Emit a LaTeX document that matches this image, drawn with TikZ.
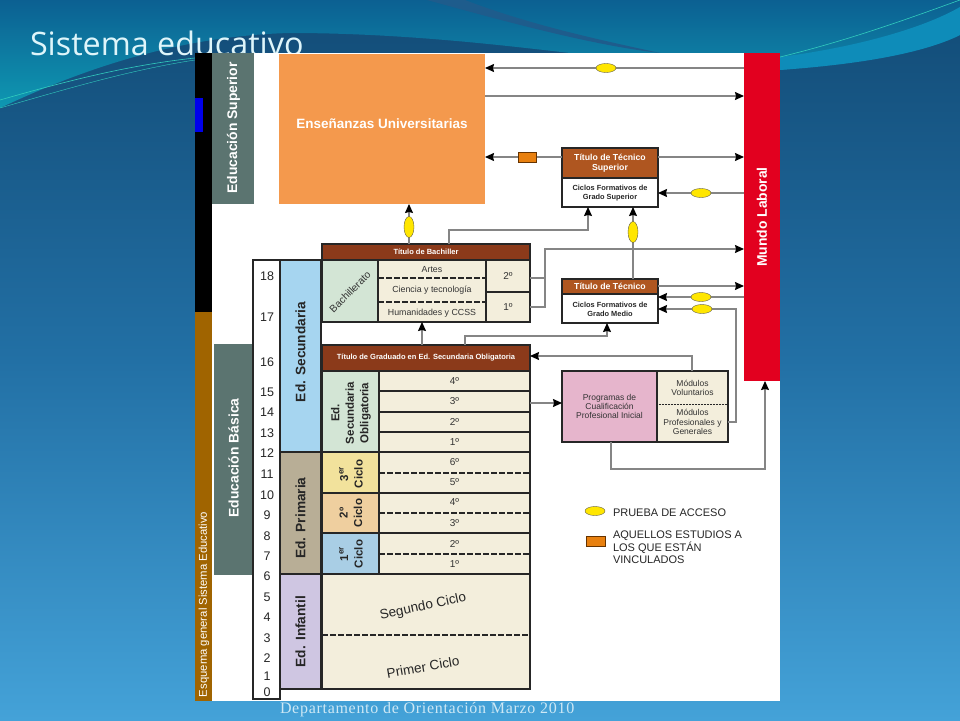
\documentclass[tikz,border=0pt]{standalone}
\usepackage{fontspec}
\setmainfont{Liberation Sans}
\newfontfamily\titlefont{Open Sans}
\newfontfamily\footfont[LetterSpace=4.4]{Liberation Serif}
\usetikzlibrary{arrows.meta,shapes.geometric}
\definecolor{bachiller}{HTML}{8B3A1A}
\definecolor{tecnico}{HTML}{AF5620}
\definecolor{crema}{HTML}{F3EEDC}
\definecolor{verdeclaro}{HTML}{D3E5D5}
\definecolor{grisverde}{HTML}{5B7470}
\definecolor{borde}{HTML}{262626}
\definecolor{conector}{HTML}{858585}
\definecolor{amarillo}{HTML}{FFE600}
\definecolor{naranja}{HTML}{E8800F}
\definecolor{fondoa}{HTML}{124B76}
\definecolor{fondob}{HTML}{2270A5}
\definecolor{fondoc}{HTML}{44A2D8}
\definecolor{bandaa}{HTML}{0C6092}
\definecolor{bandab}{HTML}{0E98B2}
\definecolor{estela}{HTML}{1E5C8C}
\definecolor{brillo}{HTML}{0E8CB9}
\definecolor{hilo}{HTML}{32CDBE}
\definecolor{blancoazul}{HTML}{DEF5FA}
\definecolor{pieclaro}{HTML}{CDE8F5}
\definecolor{marron}{HTML}{A06400}
\definecolor{azulpuro}{HTML}{0000EB}
\definecolor{ensena}{HTML}{F4994D}
\definecolor{rojomundo}{HTML}{E2001F}
\definecolor{celeste}{HTML}{A6D5F0}
\definecolor{arena}{HTML}{B8AE96}
\definecolor{lila}{HTML}{CFC6E2}
\definecolor{cicloa}{HTML}{A9CEE5}
\definecolor{ciclob}{HTML}{EFCF9F}
\definecolor{cicloc}{HTML}{F2E29C}
\definecolor{rosa}{HTML}{E6B5CC}
\begin{document}
\begin{tikzpicture}[x=1pt,y=-1pt]
      \useasboundingbox (0,0) rectangle (960,720);
      \tikzstyle{every node} = [inner sep = 0pt, outer sep = 0pt]
      \tikzstyle{caja} = [draw = borde, line width = 1.3pt, anchor = north west, align = center]
      \tikzstyle{franja} = [anchor = north west, text = white, font = \bfseries]
      \tikzstyle{rotulo} = [rotate = 90, text = white, font = \bfseries\fontsize{13.9}{15}\selectfont]
      \tikzstyle{cabecera} = [caja, text = white, font = \bfseries\fontsize{7.5}{9}\selectfont]
      \tikzstyle{tecn} = [cabecera, fill = tecnico, minimum width = 96pt, font = \bfseries\fontsize{8.7}{10}\selectfont]
      \tikzstyle{fila} = [font = \fontsize{8.8}{10}\selectfont, text = black!80]
      \tikzstyle{curso} = [font = \fontsize{10}{11}\selectfont, text = black!80]
      \tikzstyle{etapa} = [caja, minimum width = 41pt]
      \tikzstyle{etapatx} = [rotate = 90, font = \bfseries\fontsize{13.7}{15}\selectfont, text = black!85]
      \tikzstyle{ciclo} = [caja, minimum width = 57pt]
      \tikzstyle{ciclotx} = [rotate = 90, align = center, font = \bfseries\fontsize{11.5}{14.5}\selectfont, text = black!85]
      \tikzstyle{edad} = [font = \fontsize{12.5}{13}\selectfont, text = black!85]
      \tikzstyle{peq} = [font = \bfseries\fontsize{7.4}{9}\selectfont, align = center, text = black!85]
      \tikzstyle{mods} = [font = \fontsize{8.5}{9.4}\selectfont, align = center, text = black!80]
      \tikzstyle{ley} = [font = \fontsize{11}{12.4}\selectfont, align = left, text = black!85]
      \tikzstyle{infantiltx} = [font = \fontsize{13.5}{14}\selectfont, text = black!85]
      \tikzstyle{oval} = [ellipse, draw = black!70!yellow, fill = amarillo, minimum width = 20pt, minimum height = 9pt]
      \tikzstyle{ovalv} = [oval, minimum width = 10pt, minimum height = 21pt]
      \tikzstyle{vinculo} = [draw = black!60!orange, fill = naranja, minimum width = 18pt, minimum height = 10pt]
      \tikzstyle{conn} = [draw = conector, line width = 1.2pt]
      \tikzstyle{flecha} = [conn, -{Stealth[black, length = 9pt, width = 8pt, inset = 1pt]}]
      \tikzstyle{rayas} = [draw = borde, line width = 1.3pt, dash pattern = on 6pt off 2pt]
      % fondo
      \shade[top color = fondoa, bottom color = fondoc, middle color = fondob] (0,0) rectangle (960,720);
      \shade[top color = bandaa, bottom color = bandab]
      (0,0) -- (0,108) .. controls (70,75) and (170,36) .. (290,33) .. controls (400,33) and (500,45) .. (570,53) -- (780,70) .. controls (850,62) and (920,55) .. (960,35) -- (960,0) -- cycle;
      \fill[estela] (427,0) -- (465,0) .. controls (530,25) and (600,40) .. (660,53) .. controls (590,45) and (500,20) .. cycle;
      \fill[brillo] (780,57) .. controls (850,48) and (920,30) .. (960,7) -- (960,35) .. controls (920,55) and (850,65) .. (780,70) -- cycle;
      \draw[hilo, line width = .6pt] (0,100) .. controls (70,80) and (130,65) .. (195,58);
      \draw[hilo, line width = .4pt] (0,108) .. controls (70,88) and (130,70) .. (195,60);
      \draw[hilo, line width = .6pt] (780,57) .. controls (850,40) and (910,18) .. (960,0);
      \node[anchor = west, text = blancoazul, font = \titlefont\fontsize{32.3}{34}\selectfont] (titulo) at (30,43) {Sistema educativo};
      \node[anchor = west, text = pieclaro, font = \footfont\fontsize{16}{17}\selectfont] (pie) at (280,710) {Departamento de Orientación Marzo 2010};
      % panel blanco
      \fill[white] (195,53) rectangle (780,701);
      \fill[black] (195,53) rectangle (212,312);
      \fill[azulpuro] (195,98) rectangle (203,132);
      \node[franja, fill = marron, minimum width = 17pt, minimum height = 389pt] (esquema) at (195,312) {};
      \node[rotate = 90, anchor = west, text = white, font = \fontsize{11.3}{12}\selectfont] (esquematx) at (204,697) {Esquema general Sistema Educativo};
      \node[franja, fill = grisverde, minimum width = 42pt, minimum height = 151pt] (superior) at (212,53) {};
      \node[rotulo] (superiortx) at (233.5,128) {Educación Superior};
      \node[franja, fill = grisverde, minimum width = 39pt, minimum height = 231pt] (basica) at (214,344) {};
      \node[rotulo] (basicatx) at (233.5,458) {Educación Básica};
      \node[franja, fill = ensena, minimum width = 206pt, minimum height = 150pt] (ens) at (279,54) {};
      \node[text = white, font = \bfseries\fontsize{13.5}{15}\selectfont] (enstx) at (382,124) {Enseñanzas Universitarias};
      \node[franja, fill = rojomundo, minimum width = 36pt, minimum height = 328pt] (mundo) at (744,53) {};
      \node[rotulo] (mundotx) at (762,217) {Mundo Laboral};
      % edades
      \node[caja, fill = white, minimum width = 27pt, minimum height = 439pt] (escala) at (253,260) {};
      \foreach \a/\y in {18/276,17/317,16/362,15/392,14/412,13/433,12/453,11/474,10/495,9/515,8/536,7/556,6/576,5/597,4/617,3/638,2/658,1/676,0/692}{
        \node[edad] (edad\a) at (267,\y) {\a};
      }
      % etapas
      \node[etapa, fill = celeste, minimum height = 192pt] (sec) at (280,260) {};
      \node[etapa, fill = arena, minimum height = 122pt] (pri) at (280,452) {};
      \node[etapa, fill = lila, minimum height = 115pt] (inf) at (280,574) {};
      \node[etapatx] (sectx) at (300.5,352) {Ed. Secundaria};
      \node[etapatx] (pritx) at (300.5,518) {Ed. Primaria};
      \node[etapatx] (inftx) at (300.5,631.5) {Ed. Infantil};
      % bachillerato
      \node[cabecera, fill = bachiller, minimum width = 208pt, minimum height = 16pt] (tbach) at (322,244) {Título de Bachiller};
      \node[caja, fill = verdeclaro, minimum width = 56pt, minimum height = 62pt] (bach) at (322,260) {};
      \node[rotate = 45, font = \fontsize{10.2}{11}\selectfont, text = black!80] (bachtx) at (350,292) {Bachillerato};
      \node[caja, fill = crema, minimum width = 108pt, minimum height = 62pt] (modal) at (378,260) {};
      \draw[rayas] (modal.west |- 0,278) -- (modal.east |- 0,278);
      \draw[rayas] (modal.west |- 0,302) -- (modal.east |- 0,302);
      \foreach \n/\t/\y in {artes/Artes/270,ciencia/Ciencia y tecnología/290,hum/Humanidades y CCSS/313}{
        \node[fila] (\n) at (432,\y) {\t};
      }
      \node[caja, fill = crema, minimum width = 44pt, minimum height = 32pt, curso] (bdos) at (486,260) {2º};
      \node[caja, fill = crema, minimum width = 44pt, minimum height = 30pt, curso] (buno) at (486,292) {1º};
      % secundaria obligatoria
      \node[cabecera, fill = bachiller, minimum width = 208pt, minimum height = 26pt] (tgrad) at (322,345) {Título de Graduado en Ed. Secundaria Obligatoria};
      \node[ciclo, fill = verdeclaro, minimum height = 81pt] (eso) at (322,371) {};
      \node[ciclotx] (esotx) at (351,413) {Ed.\\Secundaria\\Obligatoria};
      \foreach \n/\y/\h in {4/371/20,3/391/21,2/412/20,1/432/20}{
        \node[caja, fill = crema, minimum width = 151pt, minimum height = \h pt, curso] (eso\n) at (379,\y) {\n º};
      }
      % primaria
      \node[ciclo, fill = cicloc, minimum height = 41pt] (c3) at (322,452) {};
      \node[ciclo, fill = ciclob, minimum height = 40pt] (c2) at (322,493) {};
      \node[ciclo, fill = cicloa, minimum height = 41pt] (c1) at (322,533) {};
      \node[ciclotx] (c3tx) at (351,474) {3\textsuperscript{er}\\Ciclo};
      \node[ciclotx] (c2tx) at (351,513) {2º\\Ciclo};
      \node[ciclotx] (c1tx) at (351,554) {1\textsuperscript{er}\\Ciclo};
      \node[caja, fill = crema, minimum width = 151pt, minimum height = 122pt] (cursos) at (379,452) {};
      \draw[caja] (cursos.west |- 0,493) -- (cursos.east |- 0,493);
      \draw[caja] (cursos.west |- 0,533) -- (cursos.east |- 0,533);
      \foreach \y in {473,513,554}{
        \draw[rayas] (cursos.west |- 0,\y) -- (cursos.east |- 0,\y);
      }
      \foreach \n/\y in {6/462,5/482,4/502,3/523,2/544,1/564}{
        \node[curso] (curso\n) at (454.5,\y) {\n º};
      }
      % infantil
      \node[caja, fill = crema, minimum width = 208pt, minimum height = 115pt] (infantil) at (322,574) {};
      \draw[rayas] (infantil.west |- 0,635) -- (infantil.east |- 0,635);
      \node[infantiltx, rotate = 12] (segundo) at (423,607) {Segundo Ciclo};
      \node[infantiltx, rotate = 10] (primero) at (423,667) {Primer Ciclo};
      % titulos tecnicos
      \node[caja, fill = white, minimum width = 96pt, minimum height = 59pt] (gsup) at (562,148) {};
      \node[tecn, minimum height = 30pt] (tsup) at (562,148) {Título de Técnico\\Superior};
      \node[peq] (gsuptx) at (610,193) {Ciclos Formativos de\\Grado Superior};
      \node[caja, fill = white, minimum width = 96pt, minimum height = 44pt] (gmed) at (562,279) {};
      \node[tecn, minimum height = 15pt] (ttec) at (562,279) {Título de Técnico};
      \node[peq] (gmedtx) at (610,309) {Ciclos Formativos de\\Grado Medio};
      % programas
      \node[caja, fill = rosa, minimum width = 95pt, minimum height = 71pt, mods] (pcpi) at (562,371) {Programas de\\Cualificación\\Profesional Inicial};
      \node[caja, fill = crema, minimum width = 71pt, minimum height = 71pt] (mod) at (657,371) {};
      \draw[draw = borde, densely dotted, line width = .5pt] (mod.west |- 0,404) -- (mod.east |- 0,404);
      \node[mods] (modv) at (692.5,388) {Módulos\\Voluntarios};
      \node[mods] (modp) at (692.5,422) {Módulos\\Profesionales y\\Generales};
      % conectores
      \draw[flecha] (mundo.west |- 0,68) -- (ens.east |- 0,68);
      \draw[flecha] (ens.east |- 0,96) -- (mundo.west |- 0,96);
      \draw[flecha] (tsup.west |- 0,157) -- (ens.east |- 0,157);
      \draw[flecha] (tsup.east |- 0,157) -- (mundo.west |- 0,157);
      \draw[flecha] (mundo.west |- 0,193) -- (gsup.east |- 0,193);
      \draw[flecha] (tbach.north -| 409,0) -- (ens.south -| 409,0);
      \draw[flecha] (tbach.north -| 449,0) |- (560,230) -| (gsup.south -| 588,0);
      \draw[flecha] (ttec.north -| 633,0) -- (gsup.south -| 633,0);
      \coordinate (cruce) at (545,249);
      \draw[conn] (bdos.east |- 0,278) -- (cruce |- 0,278);
      \draw[flecha] (buno.east |- 0,307) -| (cruce) -- (mundo.west |- cruce);
      \draw[flecha] (ttec.east |- 0,286) -- (mundo.west |- 0,286);
      \draw[flecha] (mundo.west |- 0,297) -- (gmed.east |- 0,297);
      \draw[flecha] (mod.east |- 0,422) -| (736,309) -- (gmed.east |- 0,309);
      \draw[flecha] (tgrad.north -| 465,0) |- (600,336) -| (gmed.south -| 607,0);
      \draw[flecha] (tgrad.north -| 422,0) -- (bach.south -| 422,0);
      \draw[flecha] (mod.north -| 692,0) |- (tgrad.east |- 0,356);
      \draw[flecha] (eso3.east |- 0,403) -- (pcpi.west |- 0,403);
      \draw[flecha] (pcpi.south -| 611,0) |- (700,469) -| (mundo.south -| 765,0);
      % pruebas
      \node[ovalv] (pbach) at (409,227) {};
      \node[ovalv] (ptec) at (633,232) {};
      \node[oval] (puni) at (606,68) {};
      \node[oval] (psup) at (701,193) {};
      \node[oval] (pmed) at (701,297) {};
      \node[oval] (ppcpi) at (702,309) {};
      \node[vinculo] (vuni) at (527,157) {};
      % leyenda
      \node[oval] (leyoval) at (595,511) {};
      \node[ley, anchor = west] (leytx) at (613,513) {PRUEBA DE ACCESO};
      \node[vinculo, minimum width = 19pt] (leyrect) at (595.5,541) {};
      \node[ley, anchor = north west] (leyvin) at (613,531) {AQUELLOS ESTUDIOS A\\LOS QUE ESTÁN\\VINCULADOS};
\end{tikzpicture}
\end{document}
